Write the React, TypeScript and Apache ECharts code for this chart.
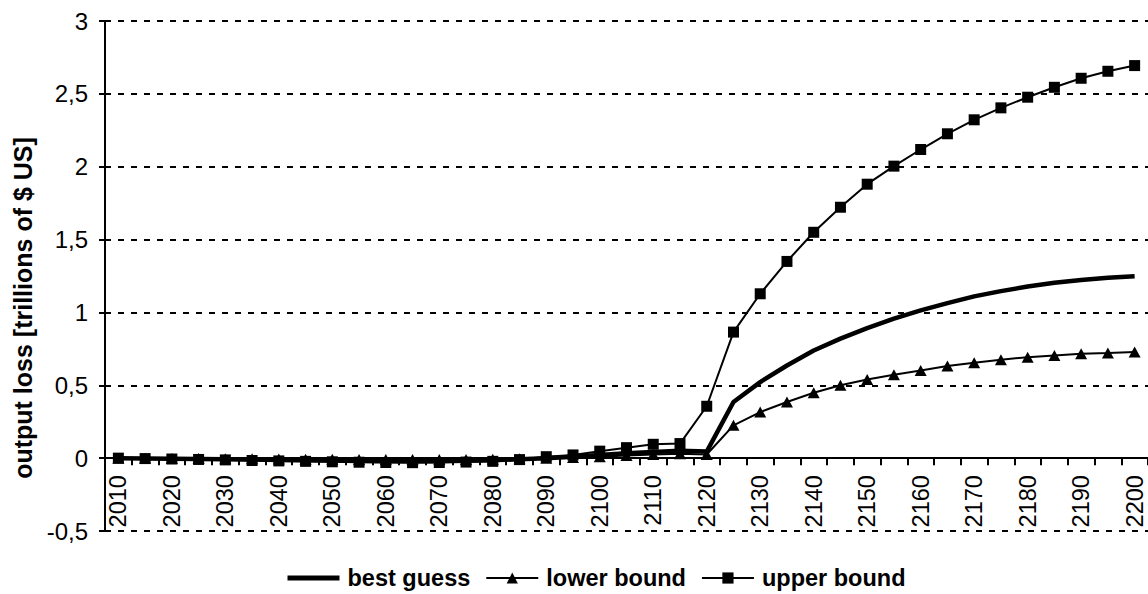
import React, { useEffect, useRef } from "react";
import * as echarts from "echarts";

const years: string[] = [
  "2010","2015","2020","2025","2030","2035","2040","2045","2050","2055",
  "2060","2065","2070","2075","2080","2085","2090","2095","2100","2105",
  "2110","2115","2120","2125","2130","2135","2140","2145","2150","2155",
  "2160","2165","2170","2175","2180","2185","2190","2195","2200",
];

const bestGuess: number[] = [
  0, -0.002, -0.004, -0.006, -0.008, -0.01, -0.012, -0.014, -0.016, -0.018,
  -0.019, -0.02, -0.019, -0.017, -0.014, -0.008, 0.0, 0.01, 0.022, 0.033,
  0.043, 0.05, 0.045, 0.385, 0.522, 0.636, 0.739, 0.82, 0.892, 0.957,
  1.014, 1.064, 1.11, 1.146, 1.178, 1.204, 1.222, 1.238, 1.249,
];

const lowerBound: number[] = [
  0, -0.001, -0.002, -0.003, -0.004, -0.005, -0.006, -0.007, -0.008, -0.009,
  -0.01, -0.01, -0.01, -0.009, -0.007, -0.004, 0.0, 0.005, 0.01, 0.018,
  0.025, 0.03, 0.025, 0.225, 0.316, 0.385, 0.449, 0.5, 0.54, 0.573,
  0.602, 0.632, 0.655, 0.676, 0.693, 0.705, 0.717, 0.721, 0.728,
];

const upperBound: number[] = [
  0, -0.003, -0.006, -0.009, -0.012, -0.016, -0.019, -0.022, -0.025, -0.028,
  -0.03, -0.031, -0.03, -0.027, -0.022, -0.01, 0.01, 0.022, 0.048, 0.072,
  0.095, 0.1, 0.356, 0.865, 1.128, 1.35, 1.55, 1.722, 1.88, 2.004,
  2.118, 2.226, 2.322, 2.404, 2.477, 2.545, 2.607, 2.655, 2.694,
];

const seriesNames: string[] = ["best guess", "lower bound", "upper bound"];
const yAxisTitle = "output loss [trillions of $ US]";

const Y_MIN = -0.5;
const Y_MAX = 3;
const Y_STEP = 0.5;

const FONT = "'Liberation Sans', Arial, Helvetica, sans-serif";

const GRID_TOP = 21;
const GRID_HEIGHT = 510;

export default function App() {
  const ref = useRef<HTMLDivElement>(null);

  useEffect(() => {
    document.body.style.margin = "0";
    if (!ref.current) return;
    const chart = echarts.init(ref.current, null, { renderer: "svg" });
    // x axis crosses the value axis at zero: shift it up from the grid bottom
    const zeroOffset = -(GRID_HEIGHT * (0 - Y_MIN)) / (Y_MAX - Y_MIN);
    chart.setOption({
      animation: false,
      backgroundColor: "#ffffff",
      textStyle: { fontFamily: FONT, color: "#000" },
      grid: { left: 105, top: GRID_TOP, width: 1044, height: GRID_HEIGHT, containLabel: false },
      legend: {
        data: [
          { name: seriesNames[0], itemStyle: { opacity: 0 }, lineStyle: { width: 5 } },
          seriesNames[1],
          seriesNames[2],
        ],
        left: 280,
        top: 561,
        itemWidth: 52,
        itemHeight: 14,
        itemGap: 15,
        textStyle: { fontFamily: FONT, fontSize: 23.5, fontWeight: "bold", color: "#000", padding: [0, 0, 0, 3] },
      },
      graphic: [
        {
          type: "text",
          x: 23,
          y: 308,
          rotation: Math.PI / 2,
          style: {
            text: yAxisTitle,
            fontFamily: FONT,
            fontSize: 25,
            fontWeight: "bold",
            fill: "#000",
            textAlign: "center",
            textVerticalAlign: "middle",
          },
        },
      ],
      xAxis: {
        type: "category",
        data: years,
        boundaryGap: true,
        offset: zeroOffset,
        axisLine: { show: true, onZero: false, lineStyle: { color: "#000", width: 2 } },
        axisTick: { show: true, interval: 0, length: 7, inside: false, lineStyle: { color: "#000", width: 2 } },
        axisLabel: {
          interval: 1,
          rotate: 90,
          margin: 17,
          fontSize: 23.5,
          fontFamily: FONT,
          color: "#000",
        },
        splitLine: { show: false },
      },
      yAxis: {
        type: "value",
        min: Y_MIN,
        max: Y_MAX,
        interval: Y_STEP,
        axisLine: { show: true, onZero: false, lineStyle: { color: "#000", width: 2 } },
        axisTick: { show: true, length: 6, lineStyle: { color: "#000", width: 2 } },
        axisLabel: {
          margin: 17,
          fontSize: 24,
          fontFamily: FONT,
          color: "#000",
          formatter: (v: number) => String(v).replace(".", ","),
        },
        splitLine: { show: true, lineStyle: { color: "#000", width: 2, type: [6, 7] } },
      },
      series: [
        {
          name: seriesNames[0],
          type: "line",
          data: bestGuess,
          symbol: "none",
          lineStyle: { color: "#000", width: 4.5 },
          itemStyle: { color: "#000" },
          z: 3,
        },
        {
          name: seriesNames[1],
          type: "line",
          data: lowerBound,
          symbol: "triangle",
          symbolSize: [12, 11],
          lineStyle: { color: "#000", width: 2 },
          itemStyle: { color: "#000" },
          z: 4,
        },
        {
          name: seriesNames[2],
          type: "line",
          data: upperBound,
          symbol: "rect",
          symbolSize: 11,
          lineStyle: { color: "#000", width: 2 },
          itemStyle: { color: "#000" },
          z: 5,
        },
      ],
    });
    return () => chart.dispose();
  }, []);

  return <div ref={ref} style={{ width: 1148, height: 594 }} />;
}
